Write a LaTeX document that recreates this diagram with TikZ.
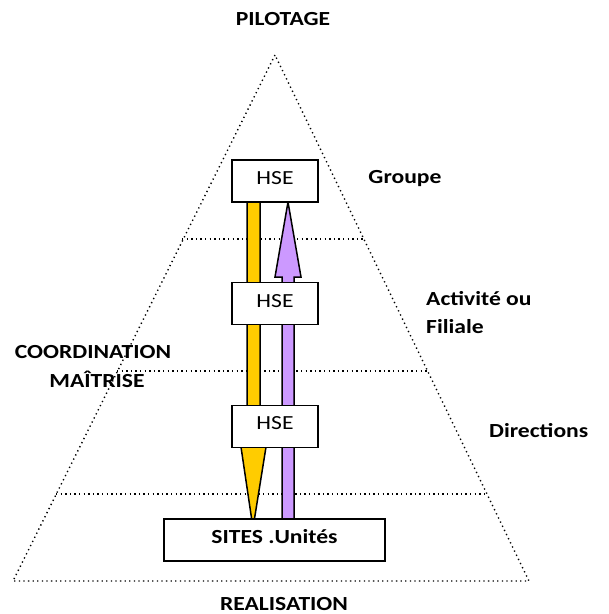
\documentclass[tikz,border=0pt]{standalone}
\usepackage{fontspec}
\setmainfont{Carlito}[FakeStretch=1.18]
\definecolor{arrowyellow}{HTML}{FFCC00}
\definecolor{arrowpurple}{HTML}{CC99FF}
\tikzset{
  dots/.style={line width=1.4pt, dash pattern=on 1.3pt off 3.3pt, line cap=butt},
  hsebox/.style={draw, line width=1.5pt, fill=white, minimum width=86pt, minimum height=42pt, inner sep=0pt},
  sitebox/.style={draw, line width=1.5pt, fill=white, minimum width=221pt, minimum height=42pt, inner sep=0pt},
  lbl/.style={font=\fontsize{20}{22}\selectfont\bfseries, inner sep=0pt},
  hsetxt/.style={font=\fontsize{20}{22}\selectfont, inner sep=0pt},
  arrowshape/.style={draw, line width=1.5pt, line join=miter}
}
\begin{document}
\begin{tikzpicture}[x=1pt,y=-1pt]
\useasboundingbox (0,0) rectangle (609,614);
% pyramid
\coordinate (apex) at (275,55);
\coordinate (bl) at (13,581);
\coordinate (br) at (529,581);
\draw[dots] (apex) -- (bl) -- (br) -- cycle;
\coordinate (l1a) at (182,239); \coordinate (l1b) at (364,239);
\coordinate (l2a) at (117,371); \coordinate (l2b) at (427,371);
\coordinate (l3a) at (56,494);  \coordinate (l3b) at (487,494);
\draw[dots] (l1a) -- (l1b);
\draw[dots] (l2a) -- (l2b);
\draw[dots] (l3a) -- (l3b);
% arrows
\draw[arrowshape, fill=arrowyellow] (247,202) -- (260,202) -- (260,447) -- (266,447) -- (253,528) -- (241,447) -- (247,447) -- cycle;
\draw[arrowshape, fill=arrowpurple] (282,519) -- (294,519) -- (294,277) -- (301,277) -- (288,202) -- (275,277) -- (282,277) -- cycle;
% boxes
\node[hsebox] (hse1) at (275,181) {};
\node[hsebox] (hse2) at (275,303.5) {};
\node[hsebox] (hse3) at (275,426.5) {};
\node[sitebox] (sites) at (274.5,540) {};
\node[hsetxt, anchor=base] (t1) at (275,184) {HSE};
\node[hsetxt, anchor=base] (t2) at (275,307) {HSE};
\node[hsetxt, anchor=base] (t3) at (275,429) {HSE};
\node[lbl, anchor=base] (t4) at (274.5,543) {SITES .Unités};
% labels
\node[lbl, anchor=base] (pilot) at (283,25.5) {PILOTAGE};
\node[lbl, anchor=base] (real) at (284,610.5) {REALISATION};
\node[lbl, anchor=base] (grp) at (405,183) {Groupe};
\node[lbl, anchor=base west] (act) at (426,305) {Activité ou};
\node[lbl, anchor=base west] (fil) at (426,333) {Filiale};
\node[lbl, anchor=base west] (dir) at (489,437) {Directions};
\node[lbl, anchor=base] (coord) at (93,358) {COORDINATION};
\node[lbl, anchor=base] (maitr) at (97,387) {MAÎTRISE};
\end{tikzpicture}
\end{document}
